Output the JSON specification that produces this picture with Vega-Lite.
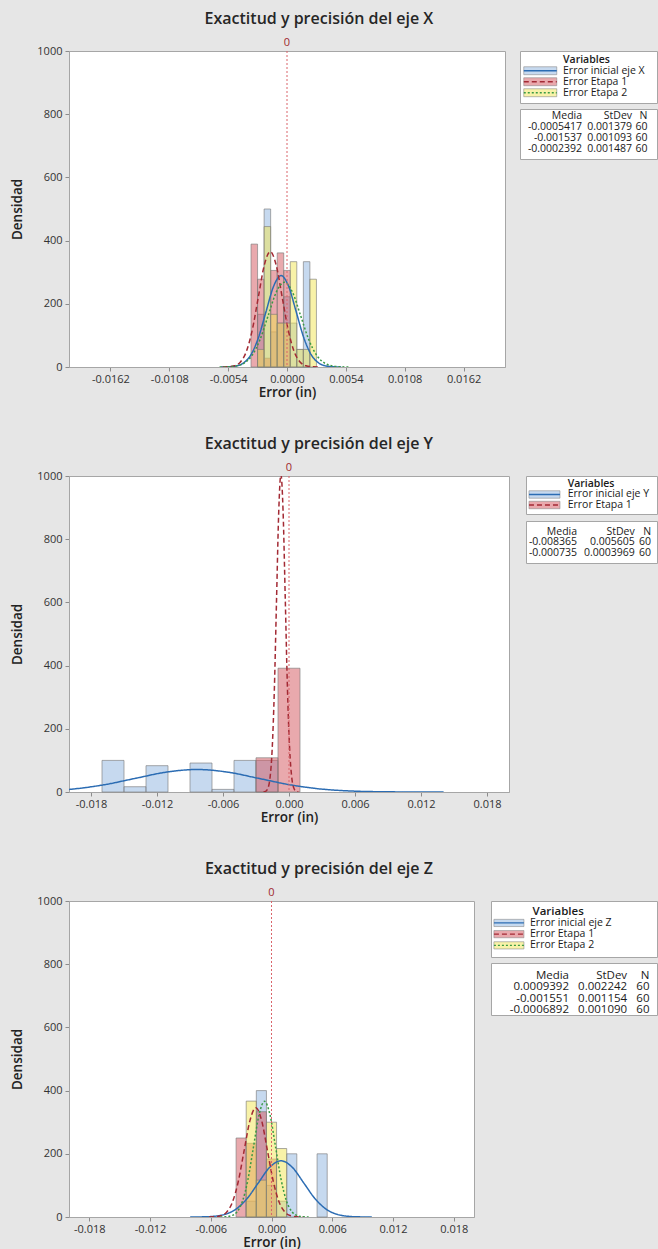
{
"$schema": "https://vega.github.io/schema/vega-lite/v6.json",
"background": "#e6e6e6",
"padding": {"left": 10, "top": 10, "right": 0, "bottom": 0},
"spacing": 36,
"config": {
  "font": "Open Sans",
  "view": {"stroke": "#a6a6a6", "fill": "white", "strokeWidth": 1},
  "axis": {"labelFont": "Open Sans", "labelFontSize": 11, "labelColor": "#333333", "titleFont": "Open Sans", "titleFontSize": 13.5, "titleFontWeight": 600, "titleColor": "#222222", "tickColor": "#8c8c8c", "tickSize": 4, "domainColor": "#a6a6a6", "grid": false, "labelPadding": 2},
  "axisX": {"titlePadding": 1},
  "axisY": {"titlePadding": 12, "labelPadding": 3},
  "title": {"font": "Open Sans", "fontSize": 16, "fontWeight": 600, "color": "#262626", "anchor": "middle", "offset": 10, "dx": -15},
  "text": {"font": "Open Sans"}
},
"datasets": {
  "h1": [
    {"s":"ini","x0":-0.0027,"x1":-0.0021,"d":166.7},
    {"s":"ini","x0":-0.0021,"x1":-0.0015,"d":500},
    {"s":"ini","x0":-0.0015,"x1":-0.0009,"d":111.1},
    {"s":"ini","x0":-0.0009,"x1":-0.0003,"d":138.9},
    {"s":"ini","x0":-0.0003,"x1":0.0003,"d":222.2},
    {"s":"ini","x0":0.0003,"x1":0.0009,"d":138.9},
    {"s":"ini","x0":0.0009,"x1":0.0015,"d":55.6},
    {"s":"ini","x0":0.0015,"x1":0.0021,"d":333.3},
    {"s":"e1","x0":-0.0033,"x1":-0.0027,"d":388.9},
    {"s":"e1","x0":-0.0027,"x1":-0.0021,"d":277.8},
    {"s":"e1","x0":-0.0021,"x1":-0.0015,"d":27.8},
    {"s":"e1","x0":-0.0015,"x1":-0.0009,"d":305.6},
    {"s":"e1","x0":-0.0009,"x1":-0.0003,"d":361.1},
    {"s":"e1","x0":-0.0003,"x1":0.0003,"d":305.6},
    {"s":"e2","x0":-0.0027,"x1":-0.0021,"d":55.6},
    {"s":"e2","x0":-0.0021,"x1":-0.0015,"d":444.4},
    {"s":"e2","x0":-0.0015,"x1":-0.0009,"d":166.7},
    {"s":"e2","x0":-0.0009,"x1":-0.0003,"d":138.9},
    {"s":"e2","x0":-0.0003,"x1":0.0003,"d":138.9},
    {"s":"e2","x0":0.0003,"x1":0.0009,"d":333.3},
    {"s":"e2","x0":0.0009,"x1":0.0015,"d":55.6},
    {"s":"e2","x0":0.0015,"x1":0.0021,"d":55.6},
    {"s":"e2","x0":0.0021,"x1":0.0027,"d":277.8}
  ],
  "h2": [
    {"s":"ini","x0":-0.017,"x1":-0.015,"d":100},
    {"s":"ini","x0":-0.015,"x1":-0.013,"d":16.7},
    {"s":"ini","x0":-0.013,"x1":-0.011,"d":83.3},
    {"s":"ini","x0":-0.009,"x1":-0.007,"d":91.7},
    {"s":"ini","x0":-0.007,"x1":-0.005,"d":8.3},
    {"s":"ini","x0":-0.005,"x1":-0.003,"d":100},
    {"s":"ini","x0":-0.003,"x1":-0.001,"d":100},
    {"s":"e1","x0":-0.003,"x1":-0.001,"d":108.3},
    {"s":"e1","x0":-0.001,"x1":0.001,"d":391.7}
  ],
  "h3": [
    {"s":"ini","x0":-0.0025,"x1":-0.0015,"d":50},
    {"s":"ini","x0":-0.0015,"x1":-0.0005,"d":400},
    {"s":"ini","x0":-0.0005,"x1":0.0005,"d":100},
    {"s":"ini","x0":0.0005,"x1":0.0015,"d":50},
    {"s":"ini","x0":0.0015,"x1":0.0025,"d":200},
    {"s":"ini","x0":0.0045,"x1":0.0055,"d":200},
    {"s":"e1","x0":-0.0035,"x1":-0.0025,"d":250},
    {"s":"e1","x0":-0.0025,"x1":-0.0015,"d":233.3},
    {"s":"e1","x0":-0.0015,"x1":-0.0005,"d":333.3},
    {"s":"e1","x0":-0.0005,"x1":0.0005,"d":183.3},
    {"s":"e2","x0":-0.0025,"x1":-0.0015,"d":366.7},
    {"s":"e2","x0":-0.0015,"x1":-0.0005,"d":116.7},
    {"s":"e2","x0":-0.0005,"x1":0.0005,"d":300},
    {"s":"e2","x0":0.0005,"x1":0.0015,"d":216.7}
  ],
  "c1": [
    {"s":"ini","x":-0.006058,"y":0.10},{"s":"ini","x":-0.005368,"y":0.63},{"s":"ini","x":-0.004679,"y":3.21},{"s":"ini","x":-0.003989,"y":12.71},{"s":"ini","x":-0.0033,"y":39.15},{"s":"ini","x":-0.00261,"y":93.9},{"s":"ini","x":-0.001921,"y":175.5},{"s":"ini","x":-0.001231,"y":255.3},{"s":"ini","x":-0.000542,"y":289.3},{"s":"ini","x":0.000148,"y":255.3},{"s":"ini","x":0.000837,"y":175.5},{"s":"ini","x":0.001527,"y":93.9},{"s":"ini","x":0.002216,"y":39.15},{"s":"ini","x":0.002906,"y":12.71},{"s":"ini","x":0.003595,"y":3.21},{"s":"ini","x":0.004285,"y":0.63},{"s":"ini","x":0.004974,"y":0.10},
    {"s":"e1","x":-0.005909,"y":0.12},{"s":"e1","x":-0.005363,"y":0.80},{"s":"e1","x":-0.004816,"y":4.05},{"s":"e1","x":-0.00427,"y":16.04},{"s":"e1","x":-0.003723,"y":49.4},{"s":"e1","x":-0.003177,"y":118.5},{"s":"e1","x":-0.00263,"y":221.4},{"s":"e1","x":-0.002084,"y":322.1},{"s":"e1","x":-0.001537,"y":365.0},{"s":"e1","x":-0.000991,"y":322.1},{"s":"e1","x":-0.000444,"y":221.4},{"s":"e1","x":0.000103,"y":118.5},{"s":"e1","x":0.000649,"y":49.4},{"s":"e1","x":0.001196,"y":16.04},{"s":"e1","x":0.001742,"y":4.05},{"s":"e1","x":0.002289,"y":0.80},{"s":"e1","x":0.002835,"y":0.12},
    {"s":"e2","x":-0.006187,"y":0.09},{"s":"e2","x":-0.005444,"y":0.59},{"s":"e2","x":-0.0047,"y":2.98},{"s":"e2","x":-0.003957,"y":11.79},{"s":"e2","x":-0.003213,"y":36.31},{"s":"e2","x":-0.00247,"y":87.1},{"s":"e2","x":-0.001726,"y":162.7},{"s":"e2","x":-0.000983,"y":236.8},{"s":"e2","x":-0.000239,"y":268.3},{"s":"e2","x":0.000504,"y":236.8},{"s":"e2","x":0.001248,"y":162.7},{"s":"e2","x":0.001991,"y":87.1},{"s":"e2","x":0.002735,"y":36.31},{"s":"e2","x":0.003478,"y":11.79},{"s":"e2","x":0.004222,"y":2.98},{"s":"e2","x":0.004965,"y":0.59},{"s":"e2","x":0.005709,"y":0.09}
  ],
  "c2": [
    {"s":"ini","x":-0.02518,"y":0.79},{"s":"ini","x":-0.022378,"y":3.13},{"s":"ini","x":-0.019575,"y":9.63},{"s":"ini","x":-0.016773,"y":23.11},{"s":"ini","x":-0.01397,"y":43.17},{"s":"ini","x":-0.011168,"y":62.82},{"s":"ini","x":-0.008365,"y":71.18},{"s":"ini","x":-0.005563,"y":62.82},{"s":"ini","x":-0.00276,"y":43.17},{"s":"ini","x":0.000043,"y":23.11},{"s":"ini","x":0.002845,"y":9.63},{"s":"ini","x":0.005648,"y":3.13},{"s":"ini","x":0.00845,"y":0.79},{"s":"ini","x":0.011253,"y":0.16},{"s":"ini","x":0.014055,"y":0.02},
    {"s":"e1","x":-0.002323,"y":0.34},{"s":"e1","x":-0.002124,"y":2.20},{"s":"e1","x":-0.001926,"y":11.17},{"s":"e1","x":-0.001727,"y":44.16},{"s":"e1","x":-0.001529,"y":136.0},{"s":"e1","x":-0.00133,"y":326.3},{"s":"e1","x":-0.001132,"y":609.6},{"s":"e1","x":-0.000933,"y":887.0},{"s":"e1","x":-0.000735,"y":1005.1},{"s":"e1","x":-0.000537,"y":887.0},{"s":"e1","x":-0.000338,"y":609.6},{"s":"e1","x":-0.00014,"y":326.3},{"s":"e1","x":0.000059,"y":136.0},{"s":"e1","x":0.000257,"y":44.16},{"s":"e1","x":0.000456,"y":11.17},{"s":"e1","x":0.000654,"y":2.20},{"s":"e1","x":0.000853,"y":0.34}
  ],
  "c3": [
    {"s":"ini","x":-0.008029,"y":0.06},{"s":"ini","x":-0.006908,"y":0.39},{"s":"ini","x":-0.005787,"y":1.98},{"s":"ini","x":-0.004666,"y":7.82},{"s":"ini","x":-0.003545,"y":24.08},{"s":"ini","x":-0.002424,"y":57.77},{"s":"ini","x":-0.001303,"y":107.93},{"s":"ini","x":-0.000182,"y":157.03},{"s":"ini","x":0.000939,"y":177.94},{"s":"ini","x":0.00206,"y":157.03},{"s":"ini","x":0.003181,"y":107.93},{"s":"ini","x":0.004302,"y":57.77},{"s":"ini","x":0.005423,"y":24.08},{"s":"ini","x":0.006544,"y":7.82},{"s":"ini","x":0.007665,"y":1.98},{"s":"ini","x":0.008786,"y":0.39},{"s":"ini","x":0.009907,"y":0.06},
    {"s":"e1","x":-0.006167,"y":0.12},{"s":"e1","x":-0.00559,"y":0.76},{"s":"e1","x":-0.005013,"y":3.84},{"s":"e1","x":-0.004436,"y":15.19},{"s":"e1","x":-0.003859,"y":46.79},{"s":"e1","x":-0.003282,"y":112.2},{"s":"e1","x":-0.002705,"y":209.7},{"s":"e1","x":-0.002128,"y":305.1},{"s":"e1","x":-0.001551,"y":345.7},{"s":"e1","x":-0.000974,"y":305.1},{"s":"e1","x":-0.000397,"y":209.7},{"s":"e1","x":0.00018,"y":112.2},{"s":"e1","x":0.000757,"y":46.79},{"s":"e1","x":0.001334,"y":15.19},{"s":"e1","x":0.001911,"y":3.84},{"s":"e1","x":0.002488,"y":0.76},{"s":"e1","x":0.003065,"y":0.12},
    {"s":"e2","x":-0.005049,"y":0.12},{"s":"e2","x":-0.004504,"y":0.80},{"s":"e2","x":-0.003959,"y":4.07},{"s":"e2","x":-0.003414,"y":16.08},{"s":"e2","x":-0.002869,"y":49.53},{"s":"e2","x":-0.002324,"y":118.8},{"s":"e2","x":-0.001779,"y":222.0},{"s":"e2","x":-0.001234,"y":323.0},{"s":"e2","x":-0.000689,"y":366.0},{"s":"e2","x":-0.000144,"y":323.0},{"s":"e2","x":0.000401,"y":222.0},{"s":"e2","x":0.000946,"y":118.8},{"s":"e2","x":0.001491,"y":49.53},{"s":"e2","x":0.002036,"y":16.08},{"s":"e2","x":0.002581,"y":4.07},{"s":"e2","x":0.003126,"y":0.80},{"s":"e2","x":0.003671,"y":0.12}
  ],
  "l1": [
    {"s":"ini","label":"Error inicial eje X"},
    {"s":"e1","label":"Error Etapa 1"},
    {"s":"e2","label":"Error Etapa 2"}
  ],
  "l2": [
    {"s":"ini","label":"Error inicial eje Y"},
    {"s":"e1","label":"Error Etapa 1"}
  ],
  "l3": [
    {"s":"ini","label":"Error inicial eje Z"},
    {"s":"e1","label":"Error Etapa 1"},
    {"s":"e2","label":"Error Etapa 2"}
  ],
  "t1": [
    {"s":"hdr","media":"Media","sd":"StDev","n":"N"},
    {"s":"ini","media":"-0.0005417","sd":"0.001379","n":"60"},
    {"s":"e1","media":"-0.001537","sd":"0.001093","n":"60"},
    {"s":"e2","media":"-0.0002392","sd":"0.001487","n":"60"}
  ],
  "t2": [
    {"s":"hdr","media":"Media","sd":"StDev","n":"N"},
    {"s":"ini","media":"-0.008365","sd":"0.005605","n":"60"},
    {"s":"e1","media":"-0.000735","sd":"0.0003969","n":"60"}
  ],
  "t3": [
    {"s":"hdr","media":"Media","sd":"StDev","n":"N"},
    {"s":"ini","media":"0.0009392","sd":"0.002242","n":"60"},
    {"s":"e1","media":"-0.001551","sd":"0.001154","n":"60"},
    {"s":"e2","media":"-0.0006892","sd":"0.001090","n":"60"}
  ]
},
"vconcat": [
{
  "title": {"text": "Exactitud y precisión del eje X"},
  "bounds": "flush",
  "spacing": 15,
  "hconcat": [
    {
      "width": 436, "height": 316,
      "layer": [
        {"data": {"name": "h1"}, "mark": {"type": "rect", "fillOpacity": 0.5, "stroke": "#7a7a7a", "strokeWidth": 0.8, "strokeOpacity": 0.8},
         "encoding": {
           "x": {"field": "x0", "type": "quantitative", "title": "Error (in)", "scale": {"domain": [-0.02, 0.02], "nice": false, "zero": false}, "axis": {"values": [-0.0162, -0.0108, -0.0054, 0, 0.0054, 0.0108, 0.0162], "labelExpr": "replace(format(datum.value, '.4f'), '\u2212', '-')"}},
           "x2": {"field": "x1"},
           "y": {"field": "d", "type": "quantitative", "title": "Densidad", "scale": {"domain": [0, 1000], "nice": false}, "axis": {"values": [0, 200, 400, 600, 800, 1000], "format": "d"}},
           "y2": {"datum": 0},
           "fill": {"field": "s", "type": "nominal", "scale": {"domain": ["ini", "e1", "e2"], "range": ["#8db3df", "#d3535b", "#f1e551"]}, "legend": null}
         }},
        {"data": {"name": "c1"}, "mark": {"type": "line", "interpolate": "monotone", "strokeWidth": 1.5, "clip": true},
         "encoding": {
           "x": {"field": "x", "type": "quantitative", "title": "Error (in)"},
           "y": {"field": "y", "type": "quantitative", "title": "Densidad"},
           "stroke": {"field": "s", "type": "nominal", "scale": {"domain": ["ini", "e1", "e2"], "range": ["#2b6cb3", "#a32a34", "#3a9a45"]}, "legend": null},
           "strokeDash": {"field": "s", "type": "nominal", "scale": {"domain": ["ini", "e1", "e2"], "range": [[1, 0], [5, 3], [2, 2]]}, "legend": null}
         }},
        {"data": {"values": [{"ref": 0}]}, "mark": {"type": "rule", "color": "#d9646a", "strokeDash": [2, 2], "strokeWidth": 1},
         "encoding": {"x": {"field": "ref", "type": "quantitative", "title": "Error (in)"}}},
        {"data": {"values": [{"ref": 0, "lab": "0"}]}, "mark": {"type": "text", "color": "#a0282d", "fontSize": 11, "baseline": "bottom", "dy": -3},
         "encoding": {"x": {"field": "ref", "type": "quantitative", "title": "Error (in)"}, "y": {"datum": 1000, "type": "quantitative"}, "text": {"field": "lab"}}}
      ]
    },
    {
      "spacing": 4,
      "vconcat": [
        {
          "width": 137, "height": 52,
          "layer": [
            {"data": {"values": [{"s": "Variables", "label": "Variables"}]}, "mark": {"type": "text", "align": "left", "baseline": "middle", "fontSize": 10.5, "fontWeight": 600, "color": "#1a1a1a"},
             "encoding": {"x": {"datum": 0.314, "type": "quantitative", "scale": {"domain": [0, 1]}, "axis": null}, "y": {"field": "s", "type": "nominal", "scale": {"type": "point", "domain": ["Variables", "ini", "e1", "e2"], "padding": 0.864, "align": 0.46}, "axis": null}, "text": {"field": "label"}}},
            {"data": {"name": "l1"}, "mark": {"type": "point", "shape": "M-1,-0.24H1V0.24H-1Z", "size": 1089, "filled": true, "fillOpacity": 0.5, "opacity": 1, "stroke": "#8c8c8c", "strokeWidth": 0.6},
             "encoding": {"x": {"datum": 0.148, "type": "quantitative"}, "y": {"field": "s", "type": "nominal"}, "fill": {"field": "s", "type": "nominal", "scale": {"domain": ["ini", "e1", "e2"], "range": ["#8db3df", "#d3535b", "#f1e551"]}, "legend": null}}},
            {"data": {"name": "l1"}, "mark": {"type": "point", "shape": "M-1,0H1", "size": 1089, "filled": false, "opacity": 1, "strokeWidth": 1.3},
             "encoding": {"x": {"datum": 0.148, "type": "quantitative"}, "y": {"field": "s", "type": "nominal"}, "stroke": {"field": "s", "type": "nominal", "scale": {"domain": ["ini", "e1", "e2"], "range": ["#2b6cb3", "#a32a34", "#3a9a45"]}, "legend": null}, "strokeDash": {"field": "s", "type": "nominal", "scale": {"domain": ["ini", "e1", "e2"], "range": [[1, 0], [4, 2], [2, 1.5]]}, "legend": null}}},
            {"data": {"name": "l1"}, "mark": {"type": "text", "align": "left", "baseline": "middle", "fontSize": 10.5, "color": "#1a1a1a"},
             "encoding": {"x": {"datum": 0.314, "type": "quantitative"}, "y": {"field": "s", "type": "nominal"}, "text": {"field": "label"}}}
          ]
        },
        {
          "width": 137, "height": 50,
          "data": {"name": "t1"},
          "layer": [
            {"mark": {"type": "text", "align": "right", "baseline": "middle", "fontSize": 10.5, "color": "#1a1a1a"},
             "encoding": {"x": {"datum": 0.453, "type": "quantitative", "scale": {"domain": [0, 1]}, "axis": null}, "y": {"field": "s", "type": "nominal", "scale": {"type": "point", "domain": ["hdr", "ini", "e1", "e2"], "padding": 0.773, "align": 0.41}, "axis": null}, "text": {"field": "media"}}},
            {"mark": {"type": "text", "align": "right", "baseline": "middle", "fontSize": 10.5, "color": "#1a1a1a"},
             "encoding": {"x": {"datum": 0.818, "type": "quantitative"}, "y": {"field": "s", "type": "nominal"}, "text": {"field": "sd"}}},
            {"mark": {"type": "text", "align": "right", "baseline": "middle", "fontSize": 10.5, "color": "#1a1a1a"},
             "encoding": {"x": {"datum": 0.93, "type": "quantitative"}, "y": {"field": "s", "type": "nominal"}, "text": {"field": "n"}}}
          ]
        }
      ]
    }
  ]
},
{
  "title": {"text": "Exactitud y precisión del eje Y"},
  "bounds": "flush",
  "spacing": 17,
  "hconcat": [
    {
      "width": 440, "height": 316,
      "layer": [
        {"data": {"name": "h2"}, "mark": {"type": "rect", "fillOpacity": 0.5, "stroke": "#7a7a7a", "strokeWidth": 0.8, "strokeOpacity": 0.8},
         "encoding": {
           "x": {"field": "x0", "type": "quantitative", "title": "Error (in)", "scale": {"domain": [-0.02, 0.02], "nice": false, "zero": false}, "axis": {"values": [-0.018, -0.012, -0.006, 0, 0.006, 0.012, 0.018], "labelExpr": "replace(format(datum.value, '.3f'), '\u2212', '-')"}},
           "x2": {"field": "x1"},
           "y": {"field": "d", "type": "quantitative", "title": "Densidad", "scale": {"domain": [0, 1000], "nice": false}, "axis": {"values": [0, 200, 400, 600, 800, 1000], "format": "d"}},
           "y2": {"datum": 0},
           "fill": {"field": "s", "type": "nominal", "scale": {"domain": ["ini", "e1", "e2"], "range": ["#8db3df", "#d3535b", "#f1e551"]}, "legend": null}
         }},
        {"data": {"name": "c2"}, "mark": {"type": "line", "interpolate": "monotone", "strokeWidth": 1.5, "clip": true},
         "encoding": {
           "x": {"field": "x", "type": "quantitative", "title": "Error (in)"},
           "y": {"field": "y", "type": "quantitative", "title": "Densidad"},
           "stroke": {"field": "s", "type": "nominal", "scale": {"domain": ["ini", "e1", "e2"], "range": ["#2b6cb3", "#a32a34", "#3a9a45"]}, "legend": null},
           "strokeDash": {"field": "s", "type": "nominal", "scale": {"domain": ["ini", "e1", "e2"], "range": [[1, 0], [5, 3], [2, 2]]}, "legend": null}
         }},
        {"data": {"values": [{"ref": 0}]}, "mark": {"type": "rule", "color": "#d9646a", "strokeDash": [2, 2], "strokeWidth": 1},
         "encoding": {"x": {"field": "ref", "type": "quantitative", "title": "Error (in)"}}},
        {"data": {"values": [{"ref": 0, "lab": "0"}]}, "mark": {"type": "text", "color": "#a0282d", "fontSize": 11, "baseline": "bottom", "dy": -3},
         "encoding": {"x": {"field": "ref", "type": "quantitative", "title": "Error (in)"}, "y": {"datum": 1000, "type": "quantitative"}, "text": {"field": "lab"}}}
      ]
    },
    {
      "spacing": 5,
      "vconcat": [
        {
          "width": 131, "height": 38,
          "layer": [
            {"data": {"values": [{"s": "Variables", "label": "Variables"}]}, "mark": {"type": "text", "align": "left", "baseline": "middle", "fontSize": 10.5, "fontWeight": 600, "color": "#1a1a1a"},
             "encoding": {"x": {"datum": 0.318, "type": "quantitative", "scale": {"domain": [0, 1]}, "axis": null}, "y": {"field": "s", "type": "nominal", "scale": {"type": "point", "domain": ["Variables", "ini", "e1"], "padding": 0.81, "align": 0.47}, "axis": null}, "text": {"field": "label"}}},
            {"data": {"name": "l2"}, "mark": {"type": "point", "shape": "M-1,-0.24H1V0.24H-1Z", "size": 961, "filled": true, "fillOpacity": 0.5, "opacity": 1, "stroke": "#8c8c8c", "strokeWidth": 0.6},
             "encoding": {"x": {"datum": 0.141, "type": "quantitative"}, "y": {"field": "s", "type": "nominal"}, "fill": {"field": "s", "type": "nominal", "scale": {"domain": ["ini", "e1", "e2"], "range": ["#8db3df", "#d3535b", "#f1e551"]}, "legend": null}}},
            {"data": {"name": "l2"}, "mark": {"type": "point", "shape": "M-1,0H1", "size": 961, "filled": false, "opacity": 1, "strokeWidth": 1.3},
             "encoding": {"x": {"datum": 0.141, "type": "quantitative"}, "y": {"field": "s", "type": "nominal"}, "stroke": {"field": "s", "type": "nominal", "scale": {"domain": ["ini", "e1", "e2"], "range": ["#2b6cb3", "#a32a34", "#3a9a45"]}, "legend": null}, "strokeDash": {"field": "s", "type": "nominal", "scale": {"domain": ["ini", "e1", "e2"], "range": [[1, 0], [4, 2], [2, 1.5]]}, "legend": null}}},
            {"data": {"name": "l2"}, "mark": {"type": "text", "align": "left", "baseline": "middle", "fontSize": 10.5, "color": "#1a1a1a"},
             "encoding": {"x": {"datum": 0.318, "type": "quantitative"}, "y": {"field": "s", "type": "nominal"}, "text": {"field": "label"}}}
          ]
        },
        {
          "width": 131, "height": 42,
          "data": {"name": "t2"},
          "layer": [
            {"mark": {"type": "text", "align": "right", "baseline": "middle", "fontSize": 10.5, "color": "#1a1a1a"},
             "encoding": {"x": {"datum": 0.39, "type": "quantitative", "scale": {"domain": [0, 1]}, "axis": null}, "y": {"field": "s", "type": "nominal", "scale": {"type": "point", "domain": ["hdr", "ini", "e1"], "padding": 1.1, "align": 0.5}, "axis": null}, "text": {"field": "media"}}},
            {"mark": {"type": "text", "align": "right", "baseline": "middle", "fontSize": 10.5, "color": "#1a1a1a"},
             "encoding": {"x": {"datum": 0.83, "type": "quantitative"}, "y": {"field": "s", "type": "nominal"}, "text": {"field": "sd"}}},
            {"mark": {"type": "text", "align": "right", "baseline": "middle", "fontSize": 10.5, "color": "#1a1a1a"},
             "encoding": {"x": {"datum": 0.955, "type": "quantitative"}, "y": {"field": "s", "type": "nominal"}, "text": {"field": "n"}}}
          ]
        }
      ]
    }
  ]
},
{
  "title": {"text": "Exactitud y precisión del eje Z"},
  "bounds": "flush",
  "spacing": 17,
  "hconcat": [
    {
      "width": 405, "height": 316,
      "layer": [
        {"data": {"name": "h3"}, "mark": {"type": "rect", "fillOpacity": 0.5, "stroke": "#7a7a7a", "strokeWidth": 0.8, "strokeOpacity": 0.8},
         "encoding": {
           "x": {"field": "x0", "type": "quantitative", "title": "Error (in)", "scale": {"domain": [-0.02, 0.02], "nice": false, "zero": false}, "axis": {"values": [-0.018, -0.012, -0.006, 0, 0.006, 0.012, 0.018], "labelExpr": "replace(format(datum.value, '.3f'), '\u2212', '-')"}},
           "x2": {"field": "x1"},
           "y": {"field": "d", "type": "quantitative", "title": "Densidad", "scale": {"domain": [0, 1000], "nice": false}, "axis": {"values": [0, 200, 400, 600, 800, 1000], "format": "d"}},
           "y2": {"datum": 0},
           "fill": {"field": "s", "type": "nominal", "scale": {"domain": ["ini", "e1", "e2"], "range": ["#8db3df", "#d3535b", "#f1e551"]}, "legend": null}
         }},
        {"data": {"name": "c3"}, "mark": {"type": "line", "interpolate": "monotone", "strokeWidth": 1.5, "clip": true},
         "encoding": {
           "x": {"field": "x", "type": "quantitative", "title": "Error (in)"},
           "y": {"field": "y", "type": "quantitative", "title": "Densidad"},
           "stroke": {"field": "s", "type": "nominal", "scale": {"domain": ["ini", "e1", "e2"], "range": ["#2b6cb3", "#a32a34", "#3a9a45"]}, "legend": null},
           "strokeDash": {"field": "s", "type": "nominal", "scale": {"domain": ["ini", "e1", "e2"], "range": [[1, 0], [5, 3], [2, 2]]}, "legend": null}
         }},
        {"data": {"values": [{"ref": 0}]}, "mark": {"type": "rule", "color": "#d9646a", "strokeDash": [2, 2], "strokeWidth": 1},
         "encoding": {"x": {"field": "ref", "type": "quantitative", "title": "Error (in)"}}},
        {"data": {"values": [{"ref": 0, "lab": "0"}]}, "mark": {"type": "text", "color": "#a0282d", "fontSize": 11, "baseline": "bottom", "dy": -3},
         "encoding": {"x": {"field": "ref", "type": "quantitative", "title": "Error (in)"}, "y": {"datum": 1000, "type": "quantitative"}, "text": {"field": "lab"}}}
      ]
    },
    {
      "spacing": 4,
      "vconcat": [
        {
          "width": 166, "height": 56,
          "layer": [
            {"data": {"values": [{"s": "Variables", "label": "Variables"}]}, "mark": {"type": "text", "align": "left", "baseline": "middle", "fontSize": 11.5, "fontWeight": 600, "color": "#1a1a1a"},
             "encoding": {"x": {"datum": 0.25, "type": "quantitative", "scale": {"domain": [0, 1]}, "axis": null}, "y": {"field": "s", "type": "nominal", "scale": {"type": "point", "domain": ["Variables", "ini", "e1", "e2"], "padding": 1.045, "align": 0.48}, "axis": null}, "text": {"field": "label"}}},
            {"data": {"name": "l3"}, "mark": {"type": "point", "shape": "M-1,-0.24H1V0.24H-1Z", "size": 900, "filled": true, "fillOpacity": 0.5, "opacity": 1, "stroke": "#8c8c8c", "strokeWidth": 0.6},
             "encoding": {"x": {"datum": 0.108, "type": "quantitative"}, "y": {"field": "s", "type": "nominal"}, "fill": {"field": "s", "type": "nominal", "scale": {"domain": ["ini", "e1", "e2"], "range": ["#8db3df", "#d3535b", "#f1e551"]}, "legend": null}}},
            {"data": {"name": "l3"}, "mark": {"type": "point", "shape": "M-1,0H1", "size": 900, "filled": false, "opacity": 1, "strokeWidth": 1.3},
             "encoding": {"x": {"datum": 0.108, "type": "quantitative"}, "y": {"field": "s", "type": "nominal"}, "stroke": {"field": "s", "type": "nominal", "scale": {"domain": ["ini", "e1", "e2"], "range": ["#2b6cb3", "#a32a34", "#3a9a45"]}, "legend": null}, "strokeDash": {"field": "s", "type": "nominal", "scale": {"domain": ["ini", "e1", "e2"], "range": [[1, 0], [4, 2], [2, 1.5]]}, "legend": null}}},
            {"data": {"name": "l3"}, "mark": {"type": "text", "align": "left", "baseline": "middle", "fontSize": 10.5, "color": "#1a1a1a"},
             "encoding": {"x": {"datum": 0.235, "type": "quantitative"}, "y": {"field": "s", "type": "nominal"}, "text": {"field": "label"}}}
          ]
        },
        {
          "width": 166, "height": 52,
          "data": {"name": "t3"},
          "layer": [
            {"mark": {"type": "text", "align": "right", "baseline": "middle", "fontSize": 11.5, "color": "#1a1a1a"},
             "encoding": {"x": {"datum": 0.47, "type": "quantitative", "scale": {"domain": [0, 1]}, "axis": null}, "y": {"field": "s", "type": "nominal", "scale": {"type": "point", "domain": ["hdr", "ini", "e1", "e2"], "padding": 0.76, "align": 0.74}, "axis": null}, "text": {"field": "media"}}},
            {"mark": {"type": "text", "align": "right", "baseline": "middle", "fontSize": 11.5, "color": "#1a1a1a"},
             "encoding": {"x": {"datum": 0.82, "type": "quantitative"}, "y": {"field": "s", "type": "nominal"}, "text": {"field": "sd"}}},
            {"mark": {"type": "text", "align": "right", "baseline": "middle", "fontSize": 11.5, "color": "#1a1a1a"},
             "encoding": {"x": {"datum": 0.955, "type": "quantitative"}, "y": {"field": "s", "type": "nominal"}, "text": {"field": "n"}}}
          ]
        }
      ]
    }
  ]
}
]
}
